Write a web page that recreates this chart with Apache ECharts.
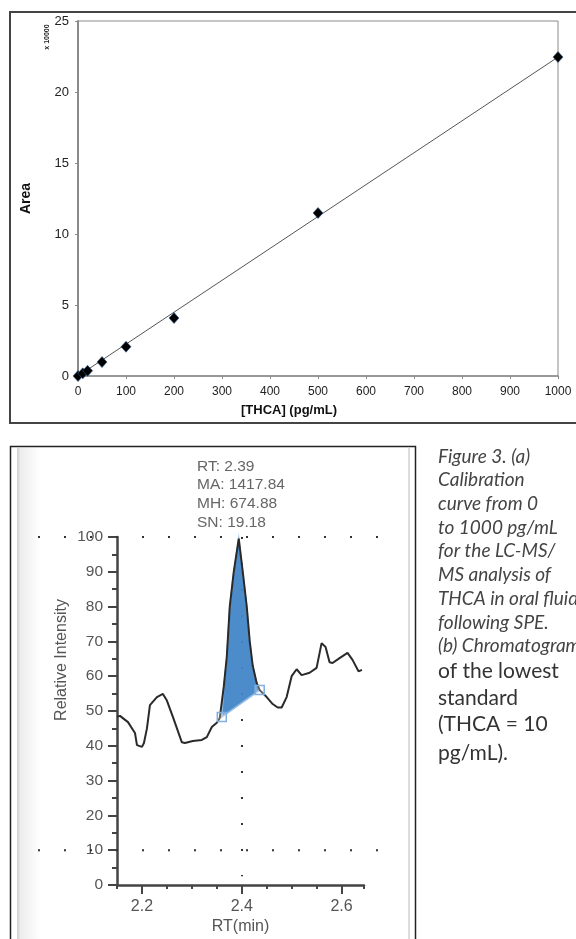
<!DOCTYPE html>
<html>
<head>
<meta charset="utf-8">
<script src="https://cdn.jsdelivr.net/npm/echarts@6/dist/echarts.min.js"></script>
<style>
html, body { margin: 0; padding: 0; background: #fff; }
#chart { width: 576px; height: 939px; }
</style>
</head>
<body>
<div id="chart"></div>
<script>
/******************** (a) calibration curve ********************/
var calConc = [0, 10, 20, 50, 100, 200, 500, 1000];
var calArea = [0, 0.19, 0.37, 0.98, 2.06, 4.08, 11.48, 22.46];
var fitConc = [0, 1000];
var fitArea = [0, 22.46];

/******************** (b) chromatogram ********************/
var rtTrace = [2.150, 2.156, 2.172, 2.186, 2.190, 2.200, 2.204, 2.210, 2.216, 2.230,
  2.242, 2.250, 2.262, 2.280, 2.286, 2.302, 2.320, 2.330, 2.340, 2.350,
  2.356, 2.360, 2.364, 2.370, 2.376, 2.384, 2.394, 2.402, 2.410, 2.416,
  2.422, 2.430, 2.436, 2.450, 2.462, 2.472, 2.480, 2.490, 2.500, 2.510,
  2.520, 2.536, 2.550, 2.560, 2.568, 2.576, 2.582, 2.596, 2.612, 2.622,
  2.634, 2.641];
var intensityTrace = [48.3, 48.6, 46.8, 43.7, 40.2, 39.7, 40.8, 45.0, 51.7, 54.0,
  54.9, 53.0, 48.3, 41.0, 40.8, 41.4, 41.7, 42.5, 45.4, 46.6,
  48.0, 48.3, 57.0, 65.5, 80.0, 90.0, 99.5, 90.0, 80.0, 70.0,
  63.0, 58.0, 56.0, 54.0, 52.0, 51.0, 51.0, 54.0, 60.0, 62.0,
  60.3, 61.0, 62.4, 69.5, 68.4, 64.0, 63.8, 65.2, 66.7, 64.7,
  61.4, 61.8];
var peakStart = 2.360;
var peakEnd = 2.436;
var rtLabels = [2.2, 2.4, 2.6];
var peakInfo = ['RT: 2.39', 'MA: 1417.84', 'MH: 674.88', 'SN: 19.18'];
var caption = ['Figure 3. (a)', 'Calibration', 'curve from 0', 'to 1000 pg/mL',
  'for the LC-MS/', 'MS analysis of', 'THCA in oral fluid', 'following SPE.',
  '(b) Chromatogram'];
var caption2 = ['of the lowest', 'standard', '(THCA = 10', 'pg/mL).'];

// dotted cross lines of the chromatogram
var dotY = [100, 10];
var dotX = 2.4;

var calPoints = calConc.map(function (c, i) { return [c, calArea[i]]; });
var fitPoints = fitConc.map(function (c, i) { return [c, fitArea[i]]; });
var tracePoints = rtTrace.map(function (t, i) { return [t, intensityTrace[i]]; });
var peakPoints = tracePoints.filter(function (p) { return p[0] >= peakStart && p[0] <= peakEnd; });
var peakEnds = [peakPoints[0], peakPoints[peakPoints.length - 1]];

var font = 'Liberation Sans, Arial, sans-serif';
var chart = echarts.init(document.getElementById('chart'));

var dotSeries = dotY.map(function (y) {
  return {
    type: 'line', xAxisIndex: 3, yAxisIndex: 2, symbol: 'none', silent: true, z: 1,
    lineStyle: { color: '#333', width: 2, type: [2, 24] },
    data: [[1.992, y], [2.712, y]]
  };
});
dotSeries.push({
  type: 'line', xAxisIndex: 3, yAxisIndex: 2, symbol: 'none', silent: true, z: 1,
  lineStyle: { color: '#333', width: 2, type: [2, 24] },
  data: [[dotX, 100], [dotX, 2.5]]
});

var captionEls = caption.map(function (t, i) {
  return { type: 'text', left: 438, top: 447 + i * 23.7,
    style: { text: t, font: 'italic 19px Lato, sans-serif', fill: '#444' } };
});
caption2.forEach(function (t, i) {
  captionEls.push({ type: 'text', left: 438, top: 661 + i * 26.5 + (i == 3 ? 2 : 0),
    style: { text: t, font: '21px Lato, sans-serif', fill: '#333' } });
});

var option = {
  backgroundColor: '#fff',
  animation: false,
  grid: [
    { left: 78, top: 21, width: 480, height: 355, show: true, borderColor: '#8a8a8a', borderWidth: 1 },
    { left: 117, top: 537, width: 247, height: 348 },
    { left: 38, top: 537, width: 360, height: 348 }
  ],
  xAxis: [
    {
      type: 'value', gridIndex: 0, min: 0, max: 1000, interval: 100,
      axisLine: { lineStyle: { color: '#8a8a8a', width: 1.5 } },
      axisTick: { length: 3, lineStyle: { color: '#8a8a8a' } },
      axisLabel: { color: '#222', fontSize: 12, fontFamily: font, margin: 10,
        formatter: function (v) { return String(v); } },
      splitLine: { show: false }
    },
    {
      type: 'value', gridIndex: 1, min: 2.15, max: 2.645, interval: 0.05, position: 'bottom',
      name: 'RT(min)', nameLocation: 'middle', nameGap: 34,
      nameTextStyle: { color: '#555', fontSize: 16, fontFamily: font },
      axisLine: { lineStyle: { color: '#444', width: 2.5 } },
      axisTick: { length: 4, lineStyle: { color: '#444', width: 2 } },
      axisLabel: { customValues: rtLabels, color: '#555', fontSize: 16, fontFamily: font, margin: 14,
        formatter: function (v) { return v.toFixed(1); } },
      splitLine: { show: false }
    },
    {
      type: 'value', gridIndex: 1, min: 2.15, max: 2.645, position: 'bottom',
      axisLine: { show: false },
      axisTick: { customValues: rtLabels, length: 9, lineStyle: { color: '#444', width: 2 } },
      axisLabel: { show: false },
      splitLine: { show: false }
    },
    { type: 'value', gridIndex: 2, min: 1.992, max: 2.712, show: false }
  ],
  yAxis: [
    {
      type: 'value', gridIndex: 0, min: 0, max: 25, interval: 5,
      name: 'Area', nameLocation: 'middle', nameGap: 45,
      nameTextStyle: { color: '#111', fontSize: 14, fontWeight: 'bold', fontFamily: font },
      axisLine: { show: true, lineStyle: { color: '#8a8a8a', width: 2 } },
      axisTick: { show: true, length: 3, lineStyle: { color: '#8a8a8a' } },
      axisLabel: { color: '#222', fontSize: 13, fontFamily: font, margin: 9 },
      splitLine: { show: false }
    },
    {
      type: 'value', gridIndex: 1, min: 0, max: 100, interval: 10,
      axisLine: { show: true, lineStyle: { color: '#444', width: 2.5 } },
      axisTick: { show: true, length: 9, lineStyle: { color: '#444', width: 2 } },
      minorTick: { show: true, splitNumber: 2, length: 5, lineStyle: { color: '#444', width: 2 } },
      axisLabel: { color: '#555', fontSize: 15.5, fontFamily: font, margin: 14 },
      splitLine: { show: false }, minorSplitLine: { show: false }
    },
    { type: 'value', gridIndex: 2, min: 0, max: 100, show: false }
  ],
  graphic: [
    // frames
    { type: 'rect', shape: { x: 10, y: 12, width: 580, height: 411 }, style: { fill: 'none', stroke: '#444', lineWidth: 2 } },
    { type: 'rect', shape: { x: 17, y: 448, width: 24, height: 500 },
      style: { fill: new echarts.graphic.LinearGradient(0, 0, 1, 0, [
        { offset: 0, color: '#cfcfcf' }, { offset: 0.15, color: '#ededed' }, { offset: 1, color: '#ffffff' }]) } },
    { type: 'line', shape: { x1: 409, y1: 448, x2: 409, y2: 945 }, style: { stroke: '#d0d0d0', lineWidth: 1.5 } },
    { type: 'rect', shape: { x: 10.5, y: 446.5, width: 405, height: 510 }, style: { fill: 'none', stroke: '#222', lineWidth: 1.5 } },
    // top chart texts
    { type: 'text', x: 47, y: 37, rotation: Math.PI / 2,
      style: { text: 'x 10000', font: 'bold 7px ' + font, fill: '#222', align: 'center', verticalAlign: 'middle' } },
    { type: 'text', x: 289, y: 410,
      style: { text: '[THCA] (pg/mL)', font: 'bold 13px ' + font, fill: '#111', align: 'center', verticalAlign: 'middle' } },
    // bottom chart texts
    { type: 'text', x: 62, y: 660, rotation: Math.PI / 2,
      style: { text: 'Relative Intensity', font: '16px ' + font, fill: '#555', align: 'center', verticalAlign: 'middle' } },
    { type: 'text', left: 197, top: 457,
      style: { text: peakInfo.join('\n'), font: '15.5px ' + font, lineHeight: 18.7, fill: '#666' } }
  ].concat(captionEls),
  series: [
    {
      type: 'line', xAxisIndex: 0, yAxisIndex: 0, symbol: 'none', z: 2,
      lineStyle: { color: '#555', width: 1 },
      data: fitPoints
    },
    {
      type: 'scatter', xAxisIndex: 0, yAxisIndex: 0, symbol: 'diamond', symbolSize: [10, 11], z: 3,
      itemStyle: { color: '#000', borderColor: '#2f5f95', borderWidth: 0.6, opacity: 1 },
      data: calPoints
    }
  ].concat(dotSeries).concat([
    {
      type: 'custom', xAxisIndex: 1, yAxisIndex: 1, z: 2, clip: false,
      renderItem: function (params, api) {
        if (params.dataIndex !== 0) return;
        var pts = peakPoints.map(function (p) { return api.coord(p); });
        return { type: 'polygon', shape: { points: pts },
          style: { fill: 'rgba(66,134,200,0.95)', stroke: '#8fbbe4', lineWidth: 1.5 } };
      },
      data: peakPoints
    },
    {
      type: 'line', xAxisIndex: 1, yAxisIndex: 1, symbol: 'none', z: 3,
      lineStyle: { color: '#2a2a2a', width: 2 },
      data: tracePoints
    },
    {
      type: 'scatter', xAxisIndex: 1, yAxisIndex: 1, symbol: 'rect', symbolSize: 9, z: 4,
      itemStyle: { color: 'rgba(255,255,255,0.25)', borderColor: '#7fb0df', borderWidth: 1.5, opacity: 1 },
      data: peakEnds
    }
  ])
};
chart.setOption(option);
</script>
</body>
</html>
